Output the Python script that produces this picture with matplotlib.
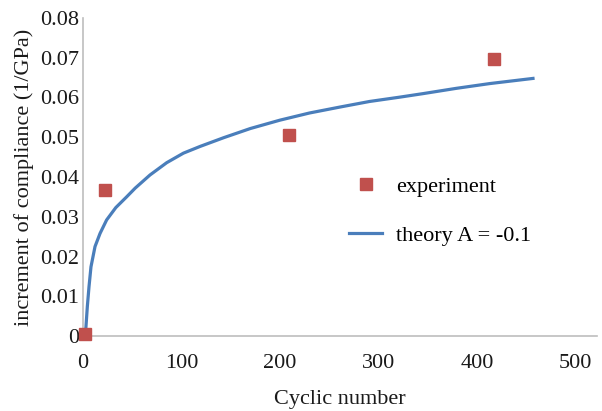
import matplotlib.pyplot as plt
import numpy as np

plt.rcParams["font.family"] = ["Liberation Serif", "DejaVu Serif"]

# measured compliance increments
exp_cycles = [2, 22, 209, 417]
exp_values = [0.0005, 0.0368, 0.0506, 0.0697]

# theoretical curve, A = -0.1
theory_cycles = [2, 3.0, 4.4, 6.1, 8.1, 12.2, 17.3, 24.0, 33.3, 44.3, 53, 68,
                 85, 102, 119, 143, 170, 200, 230, 261, 291, 322, 346, 379,
                 413, 457]
theory_values = [0.0, 0.0023, 0.0074, 0.0124, 0.0174, 0.0225, 0.0258, 0.0292,
                 0.0323, 0.0350, 0.0372, 0.0405, 0.0436, 0.0460, 0.0477,
                 0.0499, 0.0522, 0.0543, 0.0561, 0.0576, 0.0590, 0.0601,
                 0.0610, 0.0623, 0.0635, 0.0648]

x_ticks = [0, 100, 200, 300, 400, 500]
y_ticks = [0, 0.01, 0.02, 0.03, 0.04, 0.05, 0.06, 0.07, 0.08]
y_tick_labels = ["0", "0.01", "0.02", "0.03", "0.04", "0.05", "0.06", "0.07", "0.08"]

fig = plt.figure(figsize=(6.02, 4.11), dpi=100, facecolor="white")
ax = fig.add_axes([83 / 602, 75 / 411, 514 / 602, 318 / 411])

ax.plot(theory_cycles, theory_values, color="#4A7EBB", lw=2.3,
        label="theory A = -0.1", zorder=2, solid_joinstyle="round")
ax.plot(exp_cycles, exp_values, ls="none", marker="s", ms=8,
        color="#C0504D", label="experiment", zorder=3, clip_on=False)

ax.set_xlim(0, 522)
ax.set_ylim(0, 0.08)
ax.set_xticks(x_ticks)
ax.set_yticks(y_ticks)
ax.set_yticklabels(y_tick_labels)
ax.tick_params(axis="both", length=0, labelsize=16, colors="#1a1a1a")
ax.tick_params(axis="x", pad=13)
ax.tick_params(axis="y", pad=3)

for s in ["top", "right"]:
    ax.spines[s].set_visible(False)
ax.spines["left"].set_color("#BEBEBE")
ax.spines["bottom"].set_color("#BEBEBE")
ax.spines["left"].set_linewidth(1.2)
ax.spines["bottom"].set_linewidth(1.2)

ax.set_xlabel("Cyclic number", fontsize=16, color="#1a1a1a", labelpad=12.5)
ax.set_ylabel("increment of compliance (1/GPa)", fontsize=16,
              color="#1a1a1a", labelpad=4)

handles, labels = ax.get_legend_handles_labels()
ax.legend(handles[::-1], labels[::-1], loc="upper left",
          bbox_to_anchor=(349 / 602, 1 - 176 / 411),
          bbox_transform=fig.transFigure, frameon=False, fontsize=16,
          handlelength=1.5, handletextpad=0.6, labelspacing=1.3,
          borderaxespad=0, borderpad=0)

fig.savefig("out.png", dpi=100, facecolor="white")
